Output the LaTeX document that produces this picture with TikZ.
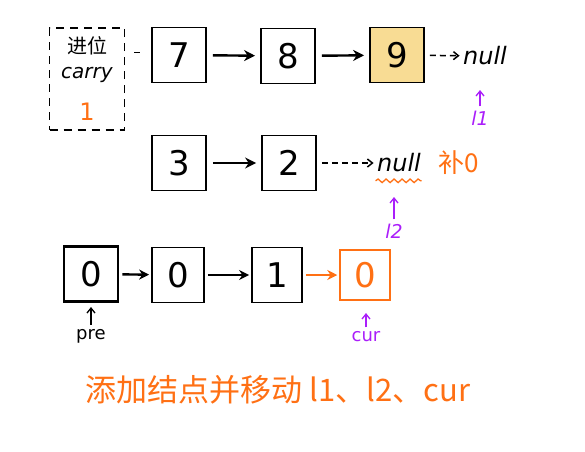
\documentclass[tikz,border=0pt]{standalone}
\usepackage{fontspec}
\setmainfont{DejaVu Sans}
\newfontfamily\cjk{Noto Sans CJK SC}
\usetikzlibrary{arrows.meta,decorations.pathmorphing}
\definecolor{myorange}{RGB}{255,112,20}
\definecolor{mypurple}{RGB}{170,30,250}
\definecolor{myyellow}{RGB}{248,220,148}
\tikzset{
  nodebox/.style={draw=black,line width=1.8pt,minimum width=54pt,minimum height=55pt,inner sep=0pt,font=\fontsize{34}{34}\selectfont},
  linkarrow/.style={-{Stealth[length=11pt,width=11pt]},line width=2.4pt,shorten <=6pt,shorten >=5pt},
  shortlink/.style={-{Stealth[length=10pt,width=10pt]},line width=2.4pt,shorten <=3pt,shorten >=2pt},
  nullarrow/.style={-{Straight Barb[length=5pt,width=8pt]},line width=1.5pt,dash pattern=on 6pt off 4pt,shorten <=5pt},
  ptrarrow/.style={-{Straight Barb[length=5pt,width=8pt]},line width=1.3pt},
  hand/.style={font=\itshape\fontsize{24}{24}\selectfont},
}
\begin{document}
\begin{tikzpicture}[x=1pt,y=-1pt]
\useasboundingbox (0,0) rectangle (585,451);
% carry box
\node[draw,dash pattern=on 8pt off 6pt,line width=1.3pt,minimum width=75pt,minimum height=102pt,inner sep=0pt] (carry) at (87,79) {};
\node[font=\cjk\fontsize{20}{20}\selectfont] (jw) at (87,46) {进位};
\node[font=\itshape\fontsize{20}{20}\selectfont] (carryt) at (87,75) {carry};
\node[font=\fontsize{24}{24}\selectfont,text=myorange] (c1) at (87,112) {1};
\coordinate (d1) at (134,52);
\coordinate (d2) at (140,52);
\draw[line width=1pt] (d1) -- (d2);
% row 1
\node[nodebox] (n7) at (179,55) {7};
\node[nodebox] (n8) at (288,56) {8};
\node[nodebox,fill=myyellow] (n9) at (397,55) {9};
\node[hand] (null1) at (485,56) {null};
\draw[linkarrow] (n7) -- (n8);
\draw[linkarrow] (n8) -- (n9);
\draw[nullarrow] (n9) -- (null1);
\node[font=\itshape\fontsize{19}{19}\selectfont,text=mypurple] (l1) at (480,118) {l1};
\draw[ptrarrow,draw=mypurple] (l1.north) ++(0,-1) coordinate (l1a) (l1a) -- (480,90);
% row 2
\node[nodebox] (n3) at (179,163) {3};
\node[nodebox] (n2) at (289,163) {2};
\node[hand] (null2) at (399,163) {null};
\draw[linkarrow] (n3) -- (n2);
\draw[nullarrow] (n2) -- (null2);
\draw[myorange,line width=1.3pt,decorate,decoration={snake,amplitude=1.8pt,segment length=8pt}] (null2.south west) ++(2,5) coordinate (w1) (w1) -- ++(46,0);
\node[font=\cjk\fontsize{26}{26}\selectfont,text=myorange] (bu) at (459,163) {补0};
\node[font=\itshape\fontsize{19}{19}\selectfont,text=mypurple] (l2) at (394,231) {l2};
\draw[ptrarrow,draw=mypurple] (l2.north) ++(0,-1) coordinate (l2a) (l2a) -- (394,197);
% row 3
\node[nodebox,line width=2.8pt] (pre) at (91,274) {0};
\node[nodebox,minimum width=52pt] (m0) at (178,275) {0};
\node[nodebox,minimum width=50pt] (m1) at (277,275) {1};
\node[nodebox,minimum width=50pt,minimum height=50pt,draw=myorange,line width=1.5pt,text=myorange] (cur) at (365,275) {0};
\draw[shortlink] (pre) -- (m0);
\draw[shortlink] (m0) -- (m1);
\draw[shortlink,draw=myorange] (m1) -- (cur);
\node[font=\fontsize{18}{18}\selectfont] (pret) at (91,336) {pre};
\draw[ptrarrow] (pret.north) ++(0,-1) coordinate (pa) (pa) -- (91,307);
\node[font=\fontsize{18}{18}\selectfont,text=mypurple] (curt) at (366,337) {cur};
\draw[ptrarrow,draw=mypurple] (curt.north) ++(0,-1) coordinate (ca) (ca) -- (366,313);
% bottom caption
\node[font=\cjk\fontsize{31}{31}\selectfont,text=myorange,anchor=west] (cap) at (82,390) {添加结点并移动 l1、l2、cur};
\end{tikzpicture}
\end{document}
